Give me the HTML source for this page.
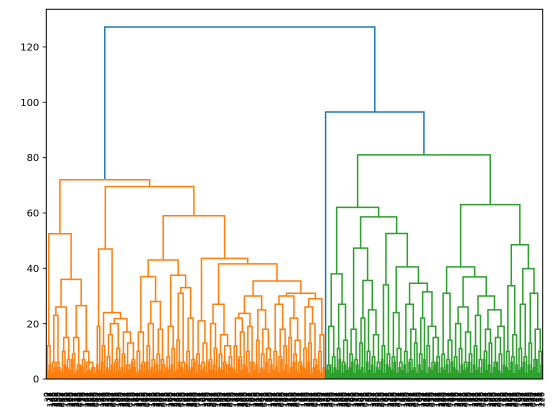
<!DOCTYPE html>
<html><head><meta charset="utf-8"><style>
html,body{margin:0;padding:0;background:#fff;}
svg{display:block;font-family:"DejaVu Sans","Liberation Sans",sans-serif;}
</style></head><body>
<svg id="chart" width="554" height="416" viewBox="0 0 554 416">
<g id="links"></g>
<g id="xlabels"></g>
<g id="yaxis"></g>
<rect x="46.3" y="9.3" width="496.4" height="369.7" fill="none" stroke="#000" stroke-width="1"/>
</svg>
<script>
// merge height between adjacent leaf groups (cophenetic distance of neighbours), left to right
const orangeGaps = [12, 52.5,
  6, 23, 4, 26, 10, 15, 7, 36,
  9, 15, 5, 26.5, 7, 10, 3, 6, 4, 72,
  19, 47, 12, 24, 8, 16, 20, 6, 11, 21.8, 9, 17, 5, 13, 7, 69.5,
  10, 17, 6, 37, 12, 20, 7, 28, 9, 18, 5, 43,
  8, 19, 11, 37.5, 14, 31, 6, 33, 10, 22, 7, 59,
  9, 21, 6, 13, 43.6,
  7, 20, 11, 27, 9, 16, 5, 12, 8, 41.6,
  12, 22, 8, 17, 23.7, 10, 19, 6, 30, 14, 25, 9, 18, 11, 7, 35.4,
  10, 27, 8, 18, 12, 30, 15, 22, 9, 14, 6, 31, 11, 26, 13, 20, 7, 29, 10, 16];
const topGaps = [127.2, 96.5];
const greenGaps = [5, 19, 8, 38, 11, 27, 6, 14, 62,
  9, 18, 7, 47.3, 13, 22, 35.6, 10, 25, 8, 16, 6, 58.6,
  12, 34, 9, 52.6,
  8, 24, 11, 6, 40.5,
  10, 27, 7, 18, 13, 34.6, 9, 22, 31.5, 12, 19, 6, 15, 8, 81,
  9, 31, 7, 14, 40.5,
  8, 20, 11, 26, 6, 17, 9, 36.9, 12, 23, 7, 30, 10, 18, 13, 25, 6, 15, 9, 19, 63,
  10, 33.7, 8, 16, 48.5,
  11, 27, 8, 39.9, 13, 31, 7, 18, 10];
// lowest-level merge height inside each leaf group (pair of leaves)
const pairHeights = [3,5,2,4,6,3,2,5,4,3, 7,2,3,5,4,2,6,3,4,2, 5,3,6,2,4,3,5,2,7,3,
  4,2,5,3,6,4,2,3,5,2, 6,3,4,2,5,3,7,2,4,3, 5,2,3,6,4,2,5,3,4,6, 2,5,3,4,2,6,3,5,2,4,
  3,6,2,5,4,3,2,7,3,5, 4,2,6,3,5,2,4,3,6,2, 5,3,4,2,7,3,5,2,4,6, 3,2,5,4,3,6,2,4,5,3,
  2,4,6,3,5,2,4,3,7,2, 5,3,4,6,2,5,3,4,2,6, 3,5,2,4,3,7,2,5,4,3, 6,2,4,3,5,2,6,3,4,2,
  5,3,7,2,4,3,5,6,2,4, 3,5,2,6,4,3,2,5,3,4, 6,2,5,3,4,2,7,3,5,2, 4,6,3,2,5,4,3,6,2,5,
  3,4,6,2,5,3,4,7,2,5];
// groups that are a single leaf (no internal pair merge)
const singletonGroups = [112];
const yTicks = [0, 20, 40, 60, 80, 100, 120];
const colorThreshold = 89;

const pairGaps = orangeGaps.concat(topGaps, greenGaps);
const groups = pairGaps.length + 1;
const gaps = [];
for (let i = 0; i < groups; i++) {
  if (singletonGroups.indexOf(i) < 0) gaps.push(pairHeights[i % pairHeights.length]);
  if (i < pairGaps.length) gaps.push(pairGaps[i]);
}
const N = gaps.length + 1;
const X0 = 46.3, W = 496.4, Y0 = 379, YTOP = 9.3;
const yMax = 133.6;
const xScale = i => X0 + (i + 0.5) * W / N;
const yScale = v => Y0 - v * (Y0 - YTOP) / yMax;
const SVGNS = 'http://www.w3.org/2000/svg';
const links = document.getElementById('links');

function build(lo, hi) {
  if (lo === hi) return {x: xScale(lo), h: 0, leaf: true};
  let m = lo;
  for (let k = lo; k < hi; k++) if (gaps[k] > gaps[m]) m = k;
  return {h: gaps[m], l: build(lo, m), r: build(m + 1, hi), x: 0};
}
function place(n) {
  if (n.leaf) return n.x;
  n.x = (place(n.l) + place(n.r)) / 2;
  return n.x;
}
const root = build(0, N - 1);
place(root);

const palette = ['#ff7f0e', '#2ca02c', '#d62728', '#9467bd'];
let clusterIdx = 0;
function draw(n, color) {
  if (n.leaf) return;
  let c = color;
  if (!c && n.h <= colorThreshold) { c = palette[clusterIdx % palette.length]; clusterIdx++; }
  const p = document.createElementNS(SVGNS, 'path');
  p.setAttribute('d', 'M' + n.l.x + ' ' + yScale(n.l.h) + 'V' + yScale(n.h) + 'H' + n.r.x + 'V' + yScale(n.r.h));
  p.setAttribute('fill', 'none');
  p.setAttribute('stroke', c || '#1f77b4');
  p.setAttribute('stroke-width', '1.5');
  
  
  links.appendChild(p);
  draw(n.l, c);
  draw(n.r, c);
}
draw(root, null);

const xl = document.getElementById('xlabels');
for (let i = 0; i < N; i++) {
  const t = document.createElementNS(SVGNS, 'text');
  t.setAttribute('transform', 'translate(' + (xScale(i) + 2.5) + ',392) rotate(-90)');
  t.setAttribute('text-anchor', 'end');
  t.setAttribute('font-size', '8');
  t.setAttribute('fill', '#000');
  t.textContent = String((i * 37) % 500);
  
  
  xl.appendChild(t);
}

const ya = document.getElementById('yaxis');
yTicks.forEach(v => {
  const y = yScale(v);
  const ln = document.createElementNS(SVGNS, 'line');
  ln.setAttribute('x1', X0 - 3.5); ln.setAttribute('x2', X0);
  ln.setAttribute('y1', y); ln.setAttribute('y2', y);
  ln.setAttribute('stroke', '#000'); ln.setAttribute('stroke-width', '0.8');
  
  
  ya.appendChild(ln);
  const t = document.createElementNS(SVGNS, 'text');
  t.setAttribute('x', X0 - 7); t.setAttribute('y', y + 3.6);
  t.setAttribute('text-anchor', 'end'); t.setAttribute('font-size', '10');
  t.setAttribute('fill', '#000');
  t.textContent = v;
  
  
  ya.appendChild(t);
});
</script>
</body></html>
